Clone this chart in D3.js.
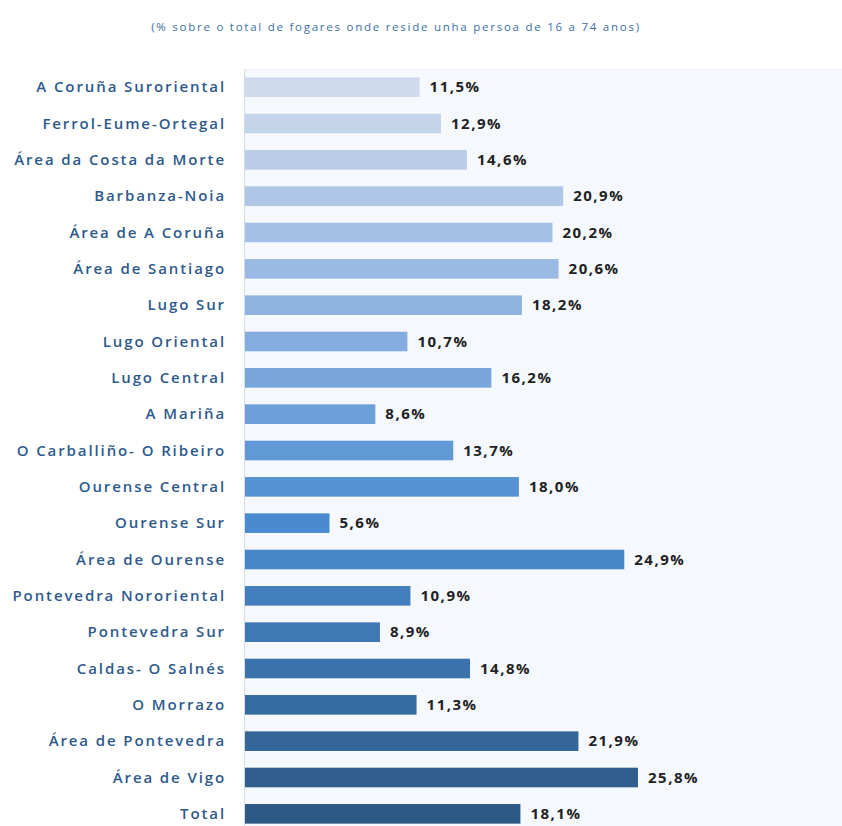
<!doctype html>
<html>
<head>
  <meta charset="utf-8">
  <script src="https://cdnjs.cloudflare.com/ajax/libs/d3/7.8.5/d3.min.js"></script>
  <style>
    body { margin: 0; background: #fff; }
    text { font-family: "Open Sans", "DejaVu Sans", sans-serif; }
    .cat { fill: #2d5a8c; font-size: 15px; font-weight: 600; letter-spacing: 1.9px; }
    .val { fill: #222; font-size: 15px; font-weight: 700; letter-spacing: 1.5px; }
  </style>
</head>
<body>
  <svg id="chart" width="842" height="826"></svg>
  <script>
    var categories = ["A Coruña Suroriental", "Ferrol-Eume-Ortegal", "Área da Costa da Morte",
      "Barbanza-Noia", "Área de A Coruña", "Área de Santiago", "Lugo Sur", "Lugo Oriental",
      "Lugo Central", "A Mariña", "O Carballiño- O Ribeiro", "Ourense Central", "Ourense Sur",
      "Área de Ourense", "Pontevedra Nororiental", "Pontevedra Sur", "Caldas- O Salnés",
      "O Morrazo", "Área de Pontevedra", "Área de Vigo", "Total"];
    var values = [11.5, 12.9, 14.6, 20.9, 20.2, 20.6, 18.2, 10.7, 16.2, 8.6, 13.7, 18.0, 5.6,
      24.9, 10.9, 8.9, 14.8, 11.3, 21.9, 25.8, 18.1];
    var subtitle = "(% sobre o total de fogares onde reside unha persoa de 16 a 74 anos)";

    var svg = d3.select("#chart");
    var mLeft = 244, mTop = 69, mBottom = 832;

    // plot background
    svg.append("rect").attr("x", mLeft).attr("y", mTop).attr("width", 842 - mLeft).attr("height", 826 - mTop)
      .attr("fill", "#f5f9fd");
    svg.append("line").attr("x1", mLeft).attr("x2", 842).attr("y1", mTop + 0.5).attr("y2", mTop + 0.5)
      .attr("stroke", "#eef1f4");

    svg.append("text").attr("x", 396).attr("y", 31).attr("text-anchor", "middle")
      .style("font-size", "11.5px").style("fill", "#3b6fa6").style("letter-spacing", "1.75px")
      .text(subtitle);

    var x = d3.scaleLinear().domain([0, 25.8]).range([mLeft, 638]);
    var y = d3.scaleBand().domain(categories).range([mTop, mBottom]).paddingInner(0.46).paddingOuter(0.23);

    var color = d3.scaleLinear()
      .domain([0, 6, 12, 20])
      .range(["#cfdaec", "#8fb3e1", "#4a8bd0", "#2c5985"]);

    svg.selectAll("rect.bar").data(values).enter().append("rect")
      .attr("class", "bar")
      .attr("x", x(0))
      .attr("y", (d, i) => y(categories[i]))
      .attr("width", d => x(d) - x(0))
      .attr("height", y.bandwidth())
      .attr("fill", (d, i) => color(i));

    svg.append("line").attr("x1", mLeft + 0.5).attr("x2", mLeft + 0.5).attr("y1", mTop).attr("y2", 826)
      .attr("stroke", "#d6dce3");

    svg.selectAll("text.cat").data(categories).enter().append("text")
      .attr("class", "cat")
      .attr("x", 226)
      .attr("y", d => y(d) + y.bandwidth() / 2)
      .attr("dy", "0.35em")
      .attr("text-anchor", "end")
      .text(d => d);

    svg.selectAll("text.val").data(values).enter().append("text")
      .attr("class", "val")
      .attr("x", d => x(d) + 10)
      .attr("y", (d, i) => y(categories[i]) + y.bandwidth() / 2)
      .attr("dy", "0.35em")
      .text(d => d.toFixed(1).replace(".", ",") + "%");
  </script>
</body>
</html>
